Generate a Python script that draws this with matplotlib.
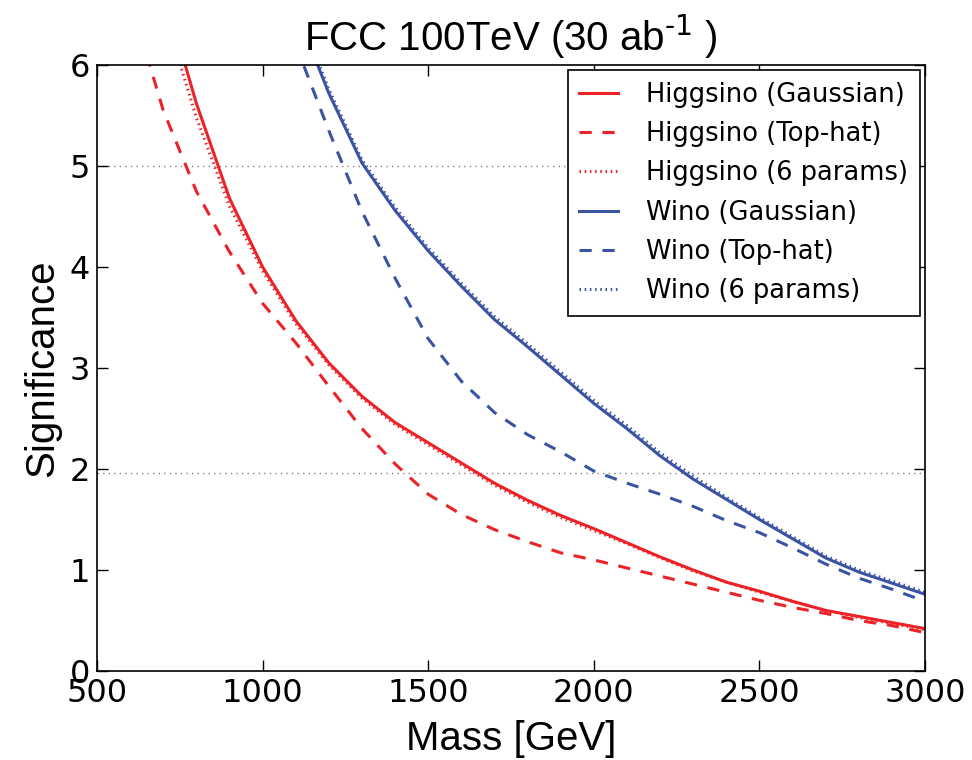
import matplotlib
matplotlib.use("Agg")
import matplotlib.pyplot as plt
import numpy as np

# data
mass = [700, 800, 900, 1000, 1100, 1200, 1300, 1400, 1500, 1600, 1700, 1800,
        1900, 2000, 2100, 2200, 2300, 2400, 2500, 2600, 2700, 2800, 2900, 3000]
higgsino_gauss = [6.75, 5.62, 4.68, 4.00, 3.47, 3.05, 2.72, 2.46, 2.26, 2.06, 1.86, 1.69,
                  1.54, 1.41, 1.27, 1.13, 1.00, 0.88, 0.79, 0.69, 0.60, 0.54, 0.48, 0.42]
higgsino_6par = [6.55, 5.48, 4.60, 3.96, 3.44, 3.03, 2.70, 2.44, 2.24, 2.04, 1.84, 1.67,
                 1.52, 1.39, 1.26, 1.12, 0.99, 0.88, 0.78, 0.69, 0.60, 0.53, 0.47, 0.41]
mass_th = [650] + mass
higgsino_tophat = [6.1, 5.55, 4.75, 4.15, 3.64, 3.25, 2.82, 2.40, 2.05, 1.75, 1.55, 1.40, 1.28,
                   1.17, 1.10, 1.02, 0.94, 0.86, 0.78, 0.70, 0.63, 0.57, 0.50, 0.45, 0.38]

mass_w = mass[4:]
wino_gauss = [6.55, 5.72, 5.03, 4.56, 4.16, 3.81, 3.48, 3.21, 2.93, 2.65, 2.40, 2.13,
              1.90, 1.70, 1.50, 1.31, 1.12, 0.98, 0.87, 0.76]
wino_6par = [6.60, 5.76, 5.06, 4.59, 4.19, 3.84, 3.51, 3.24, 2.96, 2.68, 2.43, 2.16,
             1.93, 1.72, 1.52, 1.33, 1.14, 1.00, 0.89, 0.78]
wino_tophat = [6.2, 5.35, 4.55, 3.89, 3.29, 2.87, 2.56, 2.34, 2.17, 1.98, 1.86, 1.75,
               1.63, 1.49, 1.37, 1.22, 1.06, 0.92, 0.81, 0.69]

red = "#ec2227"
blue = "#3b53a3"
lw = 2.2

fig = plt.figure(figsize=(9.72, 7.6), dpi=100)
ax = fig.add_axes([0.0998, 0.1171, 0.8518, 0.7974])

ax.axhline(5, color="gray", ls=(0, (1, 3)), lw=1, zorder=1)
ax.axhline(1.96, color="gray", ls=(0, (1, 3)), lw=1, zorder=1)

ax.plot(mass, higgsino_gauss, color=red, lw=lw, label="Higgsino (Gaussian)")
ax.plot(mass_th, higgsino_tophat, color=red, lw=lw, ls=(0, (4, 3.5)), label="Higgsino (Top-hat)")
ax.plot(mass, higgsino_6par, color=red, lw=lw, ls=(0, (0.5, 1.2)), label="Higgsino (6 params)")
ax.plot(mass_w, wino_gauss, color=blue, lw=lw, label="Wino (Gaussian)")
ax.plot(mass_w, wino_tophat, color=blue, lw=lw, ls=(0, (4, 3.5)), label="Wino (Top-hat)")
ax.plot(mass_w, wino_6par, color=blue, lw=lw, ls=(0, (0.5, 1.2)), label="Wino (6 params)")

ax.set_xlim(500, 3000)
ax.set_ylim(0, 6)
ax.set_xticks(np.arange(500, 3001, 500))
ax.set_yticks(range(0, 7))
ax.tick_params(direction="in", top=True, right=True, length=8, width=1,
               labelsize=23, pad=5)
for s in ax.spines.values():
    s.set_linewidth(1.2)

ax.set_xlabel("Mass [GeV]", fontsize=29, family="Liberation Sans", labelpad=8)
ax.set_ylabel("Significance", fontsize=29, family="Liberation Sans", labelpad=6)
ax.set_title("FCC 100TeV (30 ab$^{\\text{-1}}$ )", fontsize=29,
             family="Liberation Sans", pad=10)

leg = ax.legend(loc="upper right", fontsize=18.5, fancybox=False, edgecolor="black",
                framealpha=1, borderaxespad=0.2, handlelength=1.5, handletextpad=1.1,
                labelspacing=0.52, borderpad=0.45)
leg.get_frame().set_linewidth(1.2)

fig.savefig("out.png", dpi=100)
